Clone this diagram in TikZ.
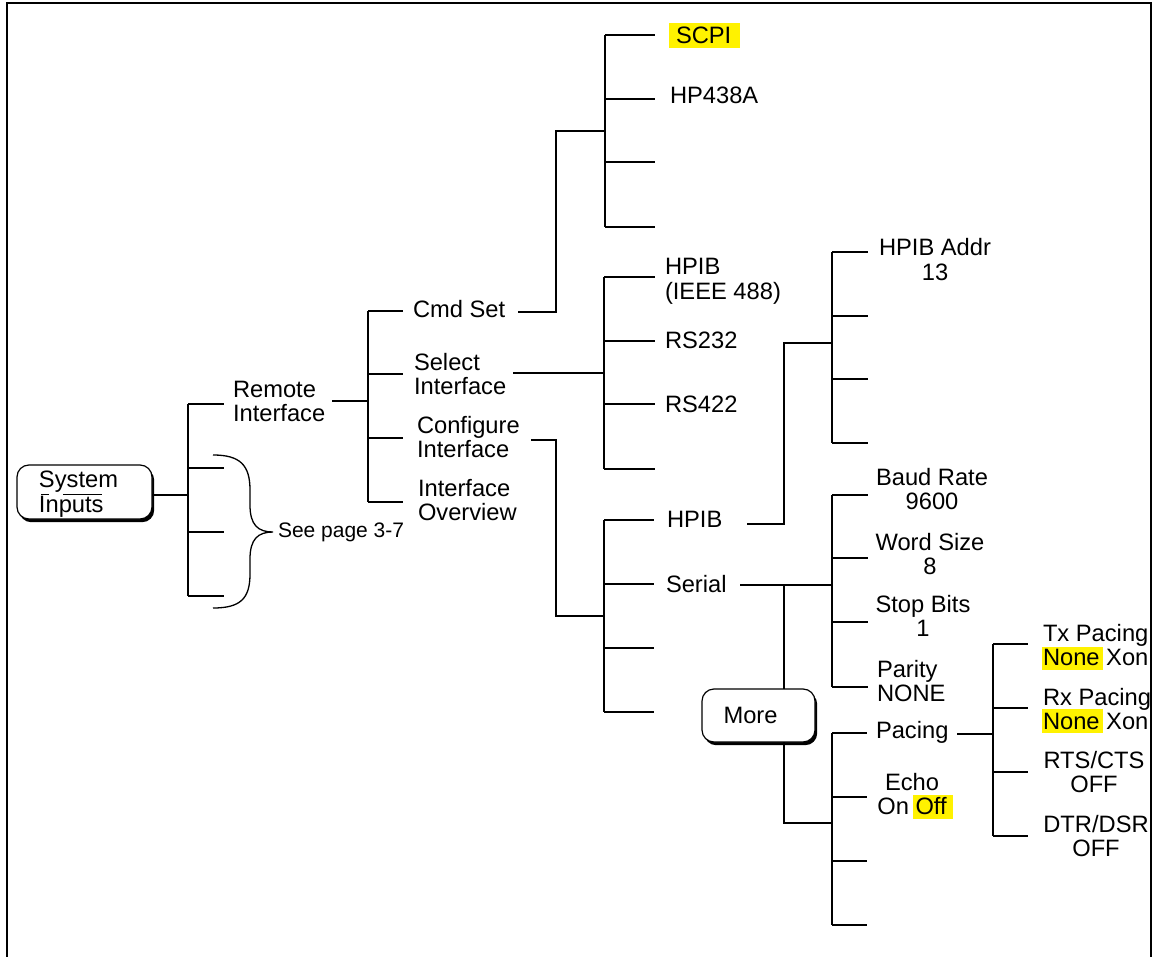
\documentclass[tikz,border=0pt]{standalone}
\usepackage{fontspec}
\setmainfont{Liberation Sans}
\usetikzlibrary{shadows}
\newcommand\twol[2]{\begin{tabular}[t]{@{}l@{}}#1\\#2\end{tabular}}
\newcommand\twoc[2]{\begin{tabular}[t]{@{}c@{}}#1\\#2\end{tabular}}
\newcommand\fan[4]{%
  \foreach \yy [count=\ii] in {#4} {%
    \coordinate (#1b\ii) at (#2,\yy);
    \coordinate (#1e\ii) at (#3,\yy);
    \draw[wire] (#1b\ii) -- (#1e\ii);
  }%
  \draw[wire] (#1b1) -- (#1b4);
}
\begin{document}
\begin{tikzpicture}[x=1pt,y=-1pt,
  every node/.style={inner sep=0pt, outer sep=0pt, font=\fontsize{23.7}{24.3}\selectfont},
  lbl/.style={anchor=base west},
  lblc/.style={anchor=base},
  wire/.style={line width=1.6pt},
  btn/.style={draw, line width=1.2pt, fill=white, rounded corners=12pt,
    drop shadow={opacity=1, fill=black, shadow xshift=2.2pt, shadow yshift=-3.2pt}},
  hl/.style={fill=yellow, draw=none}]
\useasboundingbox (0,0) rectangle (1158,957);
% frame
\draw[wire] (7,957) -- (7,3) -- (1151,3) -- (1151,957);
% highlights
\fill[hl] (669,23) rectangle (740,48);
\fill[hl] (1042,647) rectangle (1103,670);
\fill[hl] (1042,709) rectangle (1103,733);
\fill[hl] (913,795) rectangle (953,819);
% buttons
\node[btn, minimum width=135pt, minimum height=54pt] (si) at (84.5,492) {\raisebox{-3pt}[17pt][31.6pt]{\twol{System}{Inputs}}\kern12pt};
\draw[line width=1pt] (41,494) -- (49,494) (63,494) -- (102,494);
\node[btn, minimum width=113pt, minimum height=53pt] (more) at (758.5,715.5) {More\kern16pt};
% labels
\node[lbl] (remote) at (233,397) {\twol{Remote}{Interface}};
\node[lbl] (cmdset) at (413,317) {Cmd Set};
\node[lbl] (selif) at (414,370) {\twol{Select}{Interface}};
\node[lbl] (cfgif) at (417,433) {\twol{Configure}{Interface}};
\node[lbl] (ifov) at (418,496) {\twol{Interface}{Overview}};
\node[lbl] (scpi) at (676,44) {SCPI};
\node[lbl] (hp438) at (670,104) {HP438A};
\node[lbl] (hpibA) at (665,275) {\twol{HPIB}{(IEEE 488)}};
\node[lbl] (rs232) at (665,348) {RS232};
\node[lbl] (rs422) at (665,412) {RS422};
\node[lbl] (hpibB) at (667,527) {HPIB};
\node[lbl] (serial) at (666,592) {Serial};
\node[lblc] (addr) at (935,256) {\twoc{HPIB Addr}{13}};
\node[lblc] (baud) at (932,485) {\twoc{Baud Rate}{9600}};
\node[lblc] (word) at (930,550) {\twoc{Word Size}{8}};
\node[lblc] (stop) at (923,612) {\twoc{Stop Bits}{1}};
\node[lbl] (parity) at (877,677) {\twol{Parity}{NONE}};
\node[lbl] (pacing) at (876,738) {Pacing};
\node[lblc] (echo) at (912,790) {\twoc{Echo}{On Off}};
\node[lbl] (tx) at (1043,641) {\twol{Tx Pacing}{None Xon}};
\node[lbl] (rx) at (1043,705) {\twol{Rx Pacing}{None Xon}};
\node[lblc] (rts) at (1094,768) {\twoc{RTS/CTS}{OFF}};
\node[lblc] (dtr) at (1096,832) {\twoc{DTR/DSR}{OFF}};
\node[anchor=base west, font=\fontsize{21}{24}\selectfont] (seepage) at (278,537) {See page 3-7};
% brace
\draw[line width=1.3pt] (213,455) .. controls (240,455) and (250,465) .. (250,490) -- (250,505)
  .. controls (250,525) and (258,532) .. (273,532)
  .. controls (258,532) and (250,539) .. (250,559) -- (250,574)
  .. controls (250,599) and (240,608) .. (213,608);
% fans
\fan{A}{188}{224}{404,468,532,596}
\fan{B}{368}{403}{311,374,438,502}
\fan{C}{605}{655}{35,99,162,227}
\fan{D}{604}{655}{277,341,404,469}
\fan{E}{604}{654}{520,584,648,712}
\fan{F}{832}{868}{252,316,379,443}
\fan{G}{832}{868}{495,558,622,687}
\fan{H}{832}{867}{733,797,861,925}
\fan{I}{993}{1028}{644,708,772,836}
% links
\coordinate (Aj) at (188,495);
\draw[wire] (si.east |- Aj) -- (Aj);
\coordinate (Rs) at (332,401); \coordinate (Bj) at (368,401);
\draw[wire] (Rs) -- (Bj);
\coordinate (Cs) at (518,312); \coordinate (Cm) at (556,312); \coordinate (Cn) at (556,131); \coordinate (Cj) at (605,131);
\draw[wire] (Cs) -- (Cm) -- (Cn) -- (Cj);
\coordinate (Ds) at (513,373); \coordinate (Dj) at (604,373);
\draw[wire] (Ds) -- (Dj);
\coordinate (Es) at (531,440); \coordinate (Em) at (556,440); \coordinate (En) at (556,616); \coordinate (Ej) at (604,616);
\draw[wire] (Es) -- (Em) -- (En) -- (Ej);
\coordinate (Fs) at (747,524); \coordinate (Fm) at (784,524); \coordinate (Fn) at (784,343); \coordinate (Fj) at (832,343);
\draw[wire] (Fs) -- (Fm) -- (Fn) -- (Fj);
\coordinate (Gs) at (740,585); \coordinate (Gm) at (784,585); \coordinate (Gj) at (832,585);
\draw[wire] (Gs) -- (Gj);
\draw[wire] (Gm) -- (Gm |- more.north);
\coordinate (Hm) at (784,823); \coordinate (Hj) at (832,823);
\draw[wire] (Hm |- more.south) -- (Hm) -- (Hj);
\coordinate (Is) at (957,734); \coordinate (Ij) at (993,734);
\draw[wire] (Is) -- (Ij);
\end{tikzpicture}
\end{document}
